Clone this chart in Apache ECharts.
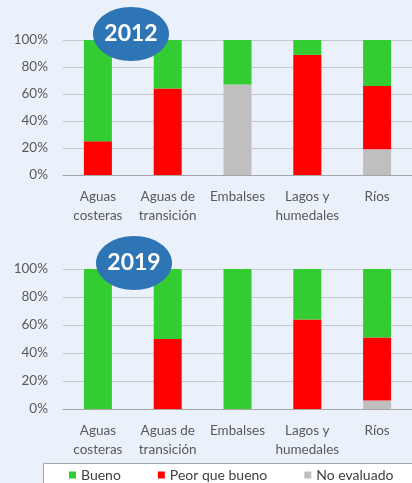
<!DOCTYPE html>
<html>
<head>
<meta charset="utf-8">
<script src="https://cdn.jsdelivr.net/npm/echarts@6/dist/echarts.min.js"></script>
<style>
  html, body { margin: 0; padding: 0; background: #ebf1fa; }
  #chart { width: 412px; height: 483px; }
</style>
</head>
<body>
<div id="chart"></div>
<script>
const categories = ["Aguas\ncosteras", "Aguas de\ntransición", "Embalses", "Lagos y\nhumedales", "Ríos"];
const seriesNames = ["Bueno", "Peor que bueno", "No evaluado"];
const years = ["2012", "2019"];
const yTicks = [0, 20, 40, 60, 80, 100];

const bueno2012 = [75, 36, 33, 11, 34];
const peor2012 = [25, 64, 0, 89, 47];
const noEval2012 = [0, 0, 67, 0, 19];

const bueno2019 = [100, 50, 100, 36, 49];
const peor2019 = [0, 50, 0, 64, 45];
const noEval2019 = [0, 0, 0, 0, 6];

const colors = { "Bueno": "#33cc33", "Peor que bueno": "#ff0000", "No evaluado": "#bfbfbf" };
const font = "Lato, 'Open Sans', sans-serif";

function barSeries(name, data, idx) {
  return {
    name: name,
    type: "bar",
    stack: "y" + idx,
    xAxisIndex: idx,
    yAxisIndex: idx,
    barWidth: 28,
    itemStyle: { color: colors[name] },
    data: data,
  };
}

function xAxis(idx) {
  return {
    type: "category",
    gridIndex: idx,
    data: categories,
    axisLine: { lineStyle: { color: "#a6a6a6" } },
    axisTick: { length: 4, lineStyle: { color: "#a6a6a6" } },
    axisLabel: { color: "#595959", fontSize: 13.5, fontFamily: font, lineHeight: 19, margin: 12, interval: 0 },
  };
}

function yAxis(idx) {
  return {
    type: "value",
    gridIndex: idx,
    min: yTicks[0],
    max: yTicks[yTicks.length - 1],
    interval: 20,
    axisLine: { show: false },
    axisTick: { show: false },
    splitLine: { lineStyle: { color: "#c8c8c8" } },
    axisLabel: { color: "#595959", fontSize: 13.5, fontFamily: font, margin: 15, formatter: "{value}%" },
  };
}

function badge(cx, cy, text) {
  return {
    type: "group",
    z: 100,
    children: [
      { type: "ellipse", shape: { cx: cx, cy: cy, rx: 38, ry: 27 }, style: { fill: "#2e75b6" }, z: 100 },
      {
        type: "text", x: cx, y: cy, z: 101,
        style: { text: text, fill: "#fff", font: "bold 23px " + font, align: "center", verticalAlign: "middle" },
      },
    ],
  };
}

const myChart = echarts.init(document.getElementById("chart"));

const option = {
  backgroundColor: "#ebf1fa",
  animation: false,
  grid: [
    { left: 63, top: 40, width: 359, height: 135 },
    { left: 63, top: 269, width: 359, height: 140 },
  ],
  xAxis: [xAxis(0), xAxis(1)],
  yAxis: [yAxis(0), yAxis(1)],
  legend: {
    data: seriesNames,
    left: 67,
    top: 466,
    padding: [2, 2],
    itemWidth: 7,
    itemHeight: 7,
    itemGap: 37,
    icon: "rect",
    textStyle: { color: "#404040", fontSize: 14, fontFamily: font },
  },
  graphic: [
    { type: "rect", shape: { x: 43.5, y: 463.5, width: 400, height: 40 }, style: { fill: "#fff", stroke: "#a6a6a6", lineWidth: 1 }, z: 0 },
    badge(131, 34, years[0]),
    badge(134, 263, years[1]),
  ],
  series: [
    barSeries("No evaluado", noEval2012, 0),
    barSeries("Peor que bueno", peor2012, 0),
    barSeries("Bueno", bueno2012, 0),
    barSeries("No evaluado", noEval2019, 1),
    barSeries("Peor que bueno", peor2019, 1),
    barSeries("Bueno", bueno2019, 1),
  ],
};

myChart.setOption(option);

window.addEventListener("resize", () => {
  myChart.resize();
});
</script>
</body>
</html>
